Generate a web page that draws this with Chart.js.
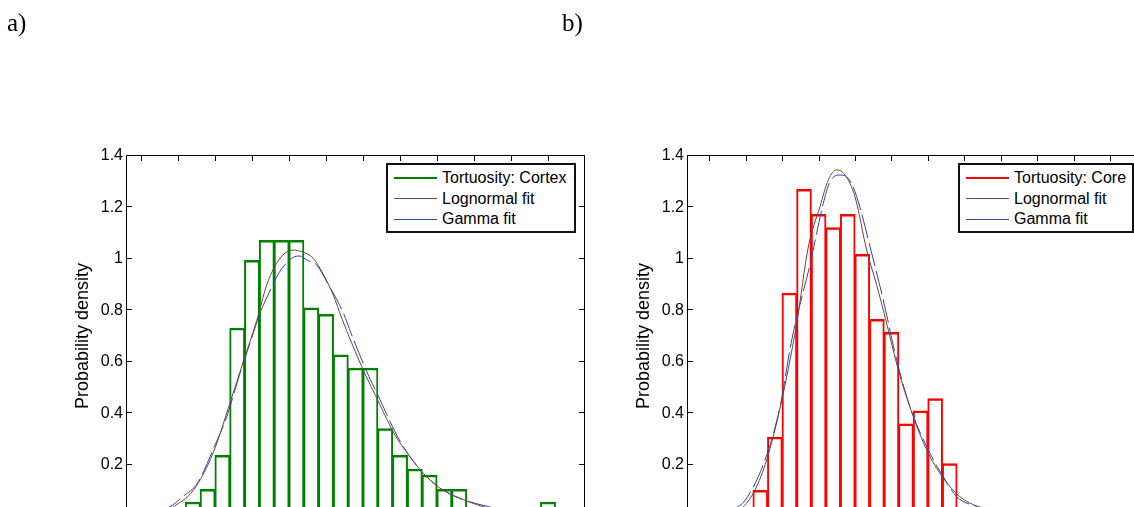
<!DOCTYPE html>
<html>
<head>
<meta charset="utf-8">
<script src="https://cdn.jsdelivr.net/npm/chart.js@4.4.1/dist/chart.umd.min.js"></script>
<style>
  html, body { margin: 0; padding: 0; background: #fff; }
  body { width: 1134px; height: 507px; overflow: hidden; position: relative; font-family: 'Liberation Sans', Arial, sans-serif; }
  .tag { position: absolute; top: 10px; font: 25px/25px 'Liberation Serif', 'Times New Roman', serif; color: #000; z-index: 2; }
  .panel { position: absolute; top: 0; }
  .legend { position: absolute; top: 163px; height: 70px; box-sizing: border-box; border: 2px solid #111; background: #fff; padding-top: 3px; z-index: 3; }
  .legend .row { display: flex; align-items: center; height: 20.5px; font-size: 16px; line-height: 20.5px; white-space: nowrap; color: #000; }
  .legend .swatch { width: 43px; margin-left: 6px; margin-right: 5px; }
</style>
</head>
<body>
<div class="tag" style="left:7px">a)</div>
<div class="tag" style="left:562px">b)</div>
<div class="panel" style="left:0"><canvas id="cortex" width="600" height="560"></canvas></div>
<div class="panel" style="left:561px"><canvas id="core" width="597" height="560"></canvas></div>
<div class="legend" id="legendCortex" style="left:386px;width:190px"></div>
<div class="legend" id="legendCore" style="left:958px;width:176px"></div>
<script>
// histogram bin centres (bin width 0.04) and densities
var cortexBins = [1.24, 1.28, 1.32, 1.36, 1.40, 1.44, 1.48, 1.52, 1.56, 1.60, 1.64, 1.68, 1.72,
                  1.76, 1.80, 1.84, 1.88, 1.92, 1.96, 2.00, 2.04, 2.08, 2.12, 2.16, 2.20];
var cortexDensity = [0.055, 0.105, 0.237, 0.732, 0.996, 1.073, 1.073, 1.073, 0.811, 0.786, 0.628, 0.577, 0.577,
                     0.341, 0.237, 0.184, 0.160, 0.105, 0.105, 0, 0, 0, 0, 0, 0.055];
var coreBins = [1.24, 1.28, 1.32, 1.36, 1.40, 1.44, 1.48, 1.52, 1.56, 1.60, 1.64, 1.68, 1.72, 1.76];
var coreDensity = [0.101, 0.308, 0.868, 1.272, 1.174, 1.123, 1.174, 1.019, 0.766, 0.716, 0.360, 0.410, 0.458, 0.205];

// fitted curves, points
var cortexLognormalX = [1.16, 1.1873, 1.2414, 1.2954, 1.3405, 1.3765, 1.4127, 1.4397, 1.4668, 1.4892, 1.5116, 1.5343,
                        1.5657, 1.5927, 1.6197, 1.6424, 1.6965, 1.7459, 1.7865, 1.8270, 1.8630, 1.9081, 1.9622, 2.0252, 2.06];
var cortexLognormalY = [0.015, 0.036, 0.100, 0.247, 0.440, 0.600, 0.760, 0.898, 0.983, 1.022, 1.034, 1.028,
                        1.002, 0.940, 0.859, 0.770, 0.581, 0.432, 0.315, 0.231, 0.166, 0.108, 0.069, 0.036, 0.022];
var cortexGammaX = [1.15, 1.1784, 1.2127, 1.2522, 1.3000, 1.3316, 1.3676, 1.3946, 1.4216, 1.4541, 1.4738, 1.5116, 1.5297,
                    1.5478, 1.5749, 1.6019, 1.6467, 1.6695, 1.7162, 1.7351, 1.7865, 1.8089, 1.8586, 1.9170, 1.9622, 2.0433, 2.08];
var cortexGammaY = [0.018, 0.036, 0.075, 0.127, 0.276, 0.386, 0.555, 0.672, 0.788, 0.892, 0.948, 1.006, 1.011,
                    0.996, 0.976, 0.911, 0.790, 0.704, 0.542, 0.486, 0.328, 0.270, 0.172, 0.101, 0.068, 0.035, 0.024];
var coreLognormalX = [1.17, 1.1933, 1.2254, 1.2575, 1.2941, 1.3399, 1.3717, 1.4038, 1.4266, 1.4497, 1.4725, 1.4999,
                      1.5320, 1.5595, 1.5869, 1.6188, 1.6583, 1.6967, 1.7423, 1.7881, 1.8384, 1.87];
var coreLognormalY = [0.018, 0.036, 0.101, 0.218, 0.419, 0.749, 1.046, 1.203, 1.307, 1.346, 1.326, 1.242,
                      1.034, 0.898, 0.749, 0.568, 0.393, 0.257, 0.147, 0.075, 0.036, 0.024];
var coreGammaX = [1.17, 1.1980, 1.2529, 1.2941, 1.3262, 1.3772, 1.4129, 1.4313, 1.4587, 1.4815, 1.5046, 1.5458,
                  1.5776, 1.6144, 1.6509, 1.7058, 1.7423, 1.7791, 1.8384, 1.87];
var coreGammaY = [0.028, 0.060, 0.218, 0.425, 0.684, 0.983, 1.216, 1.300, 1.326, 1.313, 1.242, 1.022,
                  0.840, 0.607, 0.425, 0.244, 0.153, 0.075, 0.036, 0.025];

var yTicks = [0, 0.2, 0.4, 0.6, 0.8, 1, 1.2, 1.4];
var yTickLabels = ['0', '0.2', '0.4', '0.6', '0.8', '1', '1.2', '1.4'];
var xTicks = [1.1, 1.2, 1.3, 1.4, 1.5, 1.6, 1.7, 1.8, 1.9, 2.0, 2.1, 2.2];

var BROWN = '#6e463e';
var BLUE = '#2f45b0';

Chart.defaults.font.family = "'Liberation Sans', Arial, sans-serif";
Chart.defaults.font.size = 16;
Chart.defaults.color = '#000';

function pts(xs, ys) {
  return xs.map(function (x, i) { return {x: x, y: ys[i]}; });
}

// matlab style box with inward tick marks on all four sides
var boxTicks = {
  id: 'boxTicks',
  afterDatasetsDraw: function (chart) {
    var ctx = chart.ctx, a = chart.chartArea, x = chart.scales.x, y = chart.scales.y;
    ctx.save();
    ctx.strokeStyle = '#000';
    ctx.lineWidth = 1;
    ctx.beginPath();
    x.ticks.forEach(function (t) {
      var px = Math.round(x.getPixelForValue(t.value)) + 0.5;
      ctx.moveTo(px, a.top); ctx.lineTo(px, a.top + 5);
      ctx.moveTo(px, a.bottom); ctx.lineTo(px, a.bottom - 5);
    });
    y.ticks.forEach(function (t) {
      var py = Math.round(y.getPixelForValue(t.value)) - 0.5;
      ctx.moveTo(a.left, py); ctx.lineTo(a.left + 5, py);
      ctx.moveTo(a.right, py); ctx.lineTo(a.right - 5, py);
    });
    ctx.stroke();
    ctx.strokeRect(a.left - 0.5, a.top - 0.5, a.right - a.left + 1, a.bottom - a.top + 1);
    ctx.restore();
  }
};

function buildLegend(chart, el) {
  chart.data.datasets.forEach(function (ds) {
    var row = document.createElement('div');
    row.className = 'row';
    var sw = document.createElement('div');
    sw.className = 'swatch';
    sw.style.height = (ds.type === 'bar' ? 2 : 1) + 'px';
    sw.style.background = ds.borderColor;
    var txt = document.createElement('span');
    txt.textContent = ds.label;
    row.appendChild(sw);
    row.appendChild(txt);
    el.appendChild(row);
  });
}

function makeChart(id, legendId, o) {
  var chart = new Chart(document.getElementById(id), {
    type: 'bar',
    data: {
      datasets: [{
        type: 'bar',
        label: o.label,
        data: pts(o.bins, o.density),
        borderColor: o.color,
        backgroundColor: 'rgba(255,255,255,0)',
        borderWidth: {top: 2.5, left: 2, right: 2, bottom: 0},
        // slightly wider than the bin so neighbouring edges overlap into one line
        barPercentage: 1.07,
        categoryPercentage: 1,
        inflateAmount: 0,
        order: 3
      }, {
        type: 'line',
        label: 'Lognormal fit',
        data: pts(o.logX, o.logY),
        borderColor: BROWN,
        borderWidth: 1,
        pointRadius: 0,
        cubicInterpolationMode: 'monotone',
        order: 1
      }, {
        type: 'line',
        label: 'Gamma fit',
        data: pts(o.gamX, o.gamY),
        borderColor: BLUE,
        borderWidth: 1,
        borderDash: [24, 5],
        pointRadius: 0,
        cubicInterpolationMode: 'monotone',
        order: 2
      }]
    },
    options: {
      responsive: false,
      animation: false,
      events: [],
      layout: {padding: {left: 0, top: 156, right: 16, bottom: 24}},
      plugins: {legend: {display: false}, tooltip: {enabled: false}},
      scales: {
        x: {
          type: 'linear', min: o.xMin, max: o.xMax, offset: false,
          grid: {display: false, drawTicks: false},
          border: {display: false},
          ticks: {display: false},
          afterBuildTicks: function (s) { s.ticks = xTicks.map(function (v) { return {value: v}; }); },
          afterFit: function (s) { s.height = 20; }
        },
        y: {
          min: 0, max: 1.4,
          grid: {display: false, drawTicks: false},
          border: {display: false},
          ticks: {padding: 4, callback: function (v, i) { return yTickLabels[i]; }},
          afterBuildTicks: function (s) { s.ticks = yTicks.map(function (v) { return {value: v}; }); },
          title: {display: true, text: 'Probability density', font: {size: 18}, padding: {top: 72, bottom: 0}},
          afterFit: function (s) { s.width = 127; }
        }
      }
    },
    plugins: [boxTicks]
  });
  buildLegend(chart, document.getElementById(legendId));
  return chart;
}

makeChart('cortex', 'legendCortex', {
  label: 'Tortuosity: Cortex', color: '#008000',
  bins: cortexBins, density: cortexDensity,
  logX: cortexLognormalX, logY: cortexLognormalY,
  gamX: cortexGammaX, gamY: cortexGammaY,
  xMin: 1.06216, xMax: 2.29730
});
makeChart('core', 'legendCore', {
  label: 'Tortuosity: Core', color: '#ff0000',
  bins: coreBins, density: coreDensity,
  logX: coreLognormalX, logY: coreLognormalY,
  gamX: coreGammaX, gamY: coreGammaY,
  xMin: 1.04153, xMax: 2.28776
});
</script>
</body>
</html>
